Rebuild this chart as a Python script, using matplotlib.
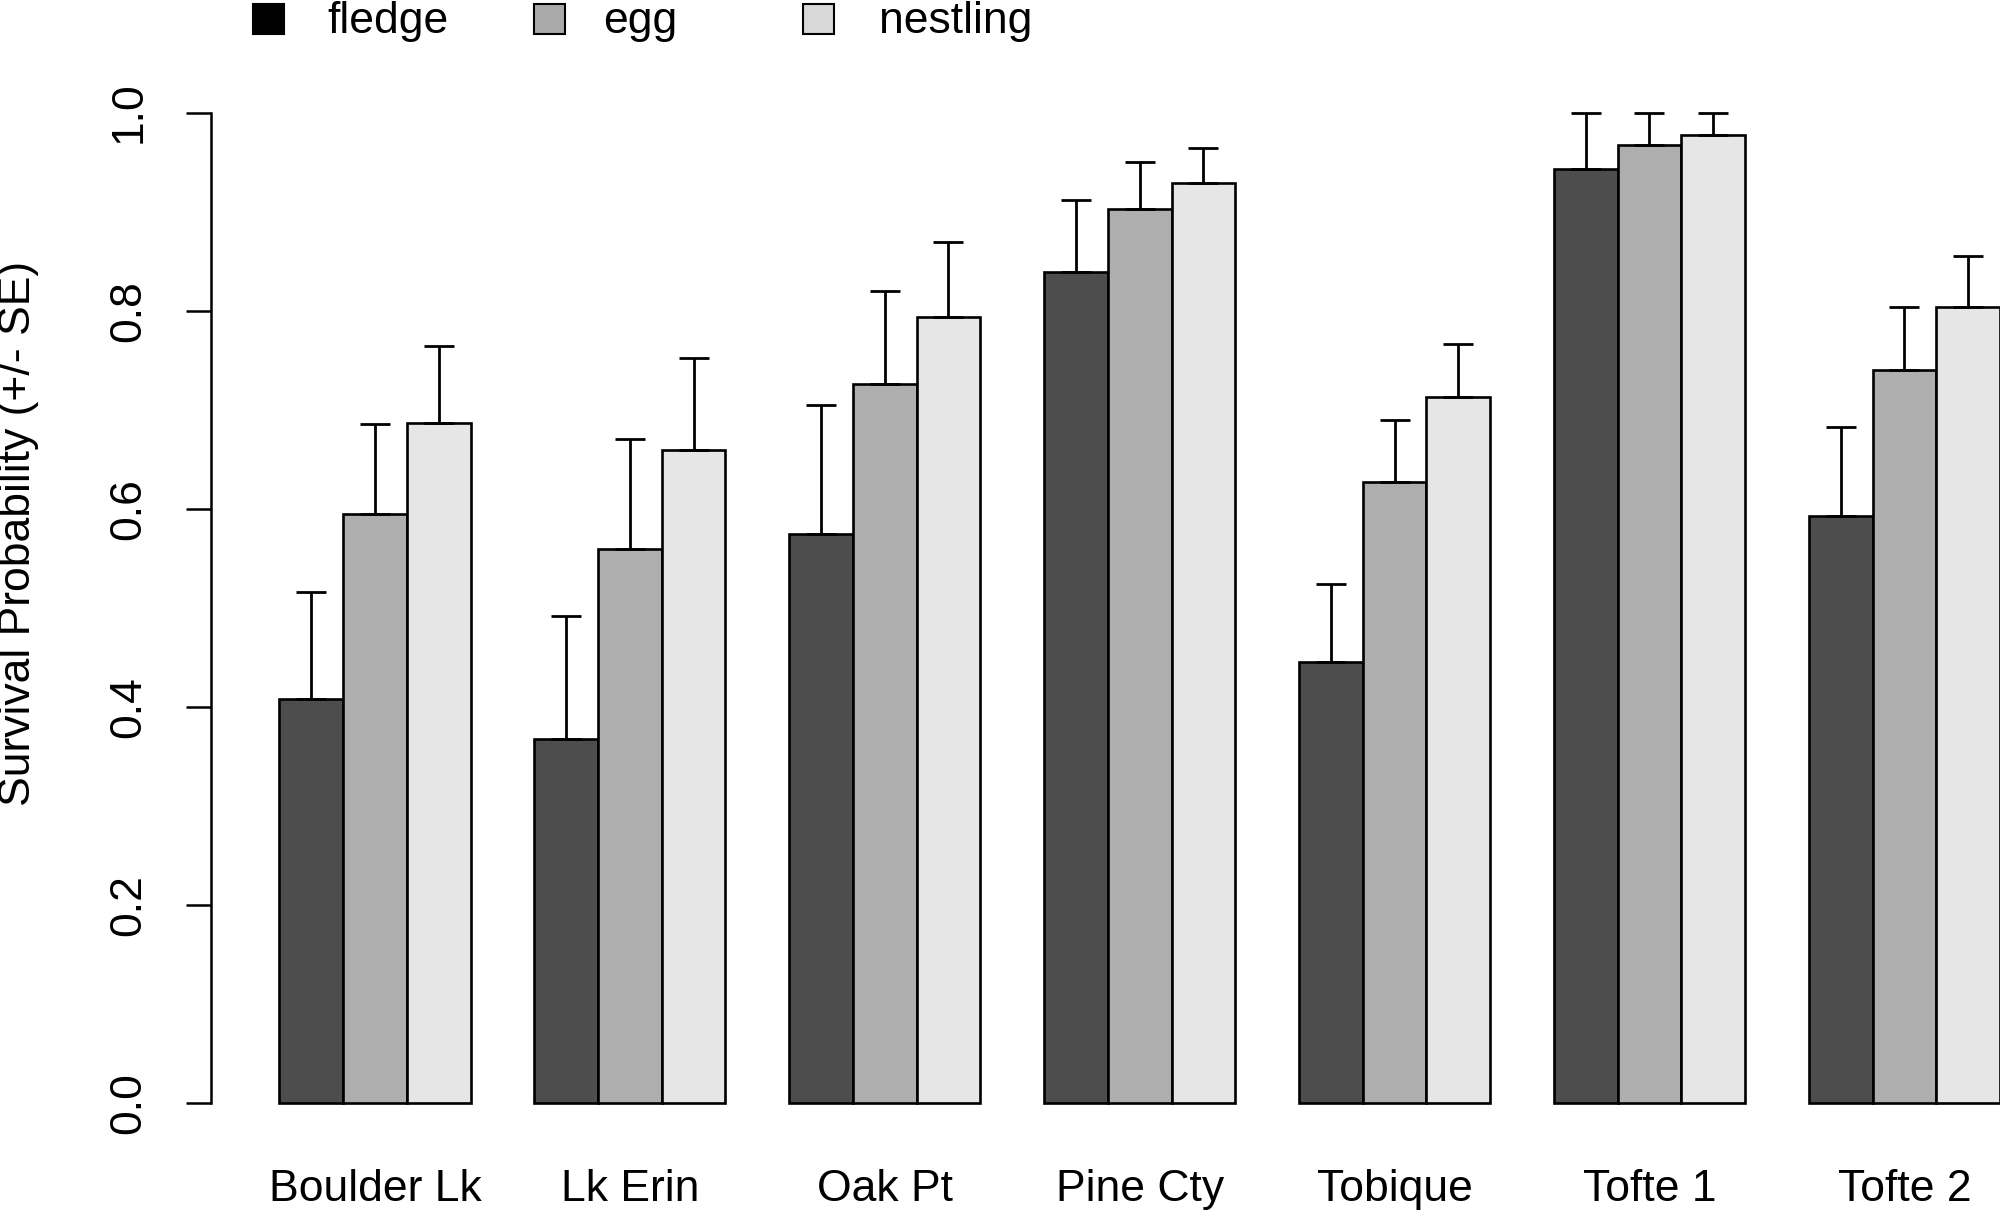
import numpy as np
import matplotlib
matplotlib.use('Agg')
from matplotlib import pyplot as plt
from matplotlib.patches import Rectangle

plt.rcParams['font.family'] = ['Liberation Sans', 'DejaVu Sans']

sites = ['Boulder Lk', 'Lk Erin', 'Oak Pt', 'Pine Cty', 'Tobique', 'Tofte 1', 'Tofte 2']
stages = ['fledge', 'egg', 'nestling']

# survival estimates and upper ends of the SE bars
fledge = [0.408, 0.368, 0.575, 0.839, 0.445, 0.943, 0.593]
egg = [0.595, 0.560, 0.726, 0.903, 0.627, 0.967, 0.740]
nestling = [0.687, 0.659, 0.794, 0.929, 0.713, 0.977, 0.804]
fledge_hi = [0.516, 0.492, 0.705, 0.912, 0.524, 1.0, 0.683]
egg_hi = [0.686, 0.671, 0.820, 0.950, 0.690, 1.0, 0.804]
nestling_hi = [0.764, 0.752, 0.869, 0.964, 0.766, 1.0, 0.855]

bar_cols = ['#4d4d4d', '#aeaeae', '#e6e6e6']
leg_cols = ['#000000', '#aaaaaa', '#d8d8d8']

vals = np.array([fledge, egg, nestling])
his = np.array([fledge_hi, egg_hi, nestling_hi])

fig = plt.figure(figsize=(20, 12.16), dpi=100)
ax = fig.add_axes([210.5/2000, 0.060, 1 - 210.5/2000, 0.880])

g = np.arange(len(sites))
for s in range(3):
    x = 1.5 + 4*g + s
    ax.bar(x, vals[s], width=1.0, color=bar_cols[s], edgecolor='black', linewidth=1.9, zorder=2)
    ax.errorbar(x, vals[s], yerr=[np.zeros(len(sites)), his[s] - vals[s]], fmt='none',
                ecolor='black', elinewidth=2.0, capsize=10.5, capthick=2.0, zorder=3)

ax.set_xlim(-0.08, 28.0)
ax.set_ylim(-0.04, 1.04)
for side in ['top', 'right', 'bottom']:
    ax.spines[side].set_visible(False)
ax.spines['left'].set_bounds(0, 1)
ax.spines['left'].set_linewidth(1.8)

ax.set_yticks([0.0, 0.2, 0.4, 0.6, 0.8, 1.0])
ax.set_yticklabels(['0.0', '0.2', '0.4', '0.6', '0.8', '1.0'], rotation=90, va='center')
ax.tick_params(axis='y', length=18, width=1.8, pad=26, labelsize=32)
ax.set_xticks(2.5 + 4*g)
ax.set_xticklabels(sites)
ax.tick_params(axis='x', length=0, pad=19, labelsize=32)

fig.text(19/2000, 1 - 533/1216, 'Survival Probability (+/- SE)', rotation=90,
         ha='center', va='center', fontsize=32)

# legend across the top
box_x = [253, 534, 803]
txt_x = [327, 603, 879]
for i in range(3):
    fig.patches.append(Rectangle((box_x[i]/2000, 1 - 34/1216), 31/2000, 30/1216,
                                 transform=fig.transFigure, facecolor=leg_cols[i],
                                 edgecolor='black', linewidth=1.5))
    fig.text(txt_x[i]/2000, 1 - 22/1216, stages[i], ha='left', va='center', fontsize=32)

fig.savefig('out.png', dpi=100)
